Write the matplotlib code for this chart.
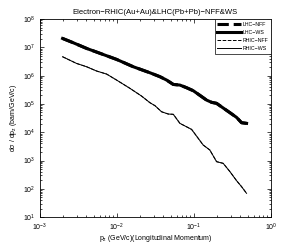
import matplotlib
matplotlib.use('Agg')
import matplotlib.pyplot as plt
import matplotlib.ticker as mticker
import numpy as np

plt.rcParams['font.family'] = ['Liberation Sans', 'DejaVu Sans']
plt.rcParams['mathtext.fontset'] = 'custom'
plt.rcParams['mathtext.rm'] = 'Liberation Sans'
plt.rcParams['mathtext.it'] = 'Liberation Sans'

## data
pz_lhc = [0.00197, 0.00271, 0.00404, 0.00665, 0.0099, 0.0163, 0.0268, 0.0362, 0.0442,
          0.054, 0.0658, 0.0803, 0.098, 0.12, 0.146, 0.17, 0.197, 0.24, 0.294, 0.358,
          0.416, 0.483]
lhc_ws = [2.07e7, 1.46e7, 9.2e6, 5.6e6, 3.76e6, 2.07e6, 1.27e6, 9.2e5, 7.0e5,
          4.9e5, 4.65e5, 3.75e5, 2.94e5, 2.0e5, 1.37e5, 1.14e5, 1.05e5, 7.2e4, 4.9e4,
          3.35e4, 2.17e4, 2.06e4]
lhc_nff = lhc_ws  # lies under the WS curve

pz_rhic = [0.00197, 0.00299, 0.00404, 0.00545, 0.00735, 0.0099, 0.0148, 0.0209, 0.0268,
           0.0312, 0.038, 0.0464, 0.054, 0.0658, 0.0933, 0.132, 0.161, 0.197, 0.24,
           0.294, 0.358, 0.416, 0.483]
rhic_ws = [4.67e6, 2.71e6, 2.07e6, 1.46e6, 1.14e6, 7.0e5, 3.55e5, 1.9e5, 1.11e5,
           8.7e4, 5.3e4, 4.4e4, 4.3e4, 2.06e4, 1.26e4, 3.53e3, 2.35e3, 910, 794,
           403, 194, 119, 69]
rhic_nff = rhic_ws

xticks = [1e-3, 1e-2, 1e-1, 1e0]
yticks = [1e1, 1e2, 1e3, 1e4, 1e5, 1e6, 1e7, 1e8]

fig = plt.figure(figsize=(3.0, 2.45), dpi=100)
ax = fig.add_axes([0.133, 0.114, 0.77, 0.808])

ax.loglog(pz_lhc, lhc_nff, 'k--', linewidth=2.2, label='LHC\u2212NFF')
ax.loglog(pz_lhc, lhc_ws, 'k-', linewidth=2.2, label='LHC\u2212WS')
ax.loglog(pz_rhic, rhic_nff, 'k--', linewidth=0.7, label='RHIC\u2212NFF')
ax.loglog(pz_rhic, rhic_ws, 'k-', linewidth=0.7, label='RHIC\u2212WS')

ax.set_xticks(xticks)
ax.set_yticks(yticks)
ax.set_xlim(1e-3, 1)
ax.set_ylim(1e1, 1e8)
ax.xaxis.set_minor_formatter(mticker.NullFormatter())
ax.yaxis.set_minor_formatter(mticker.NullFormatter())
ax.tick_params(which='both', direction='in', top=True, right=True, labelsize=5, width=0.5)
ax.tick_params(which='major', length=3)
ax.tick_params(axis='y', which='major', pad=3)
ax.tick_params(axis='x', which='major', pad=3)
ax.tick_params(which='minor', length=1.5)
for s in ax.spines.values():
    s.set_linewidth(0.6)

ax.set_title('Electron\u2212RHIC(Au+Au)&LHC(Pb+Pb)\u2212NFF&WS', fontsize=5.5, pad=4)
ax.set_xlabel('p$_z$ (GeV/c)(Longitudinal Momentum)', fontsize=5, labelpad=0)
ax.set_ylabel('d\u03c3 / dp$_z$ (barn/GeV/c)', fontsize=5, labelpad=3)

leg = ax.legend(loc='upper right', fontsize=3.8, handlelength=4.5, borderaxespad=0,
                fancybox=False, framealpha=1, edgecolor='k', borderpad=0.5, labelspacing=0.6,
                handletextpad=0.3)
leg.get_frame().set_linewidth(0.5)

plt.savefig('out.png', dpi=100)
